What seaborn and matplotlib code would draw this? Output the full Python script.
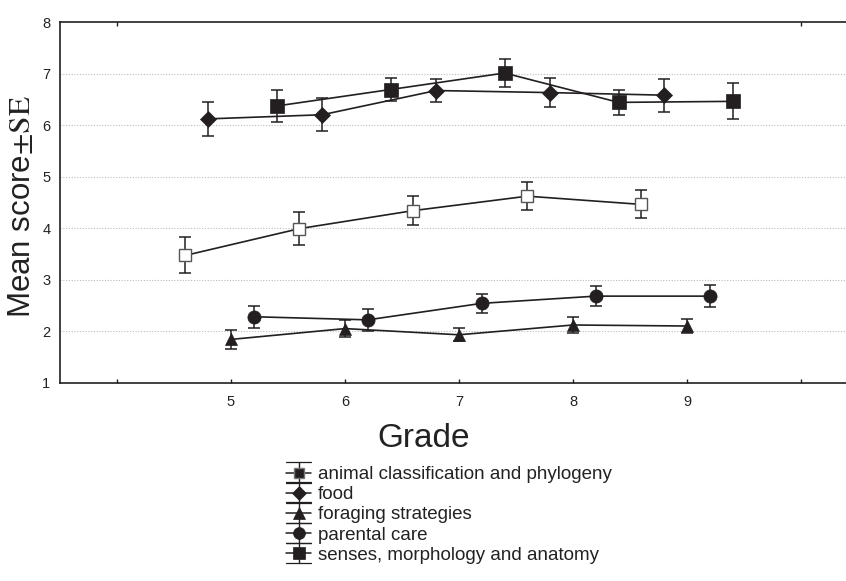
import numpy as np
import pandas as pd
import matplotlib
matplotlib.use("Agg")
import matplotlib.pyplot as plt
import seaborn as sns
from matplotlib.legend_handler import HandlerBase
from matplotlib.lines import Line2D

# ---- data ----
grades = [5, 6, 7, 8, 9]
series_names = ["animal classification and phylogeny", "food", "foraging strategies",
                "parental care", "senses, morphology and anatomy"]
animal_mean = [3.47, 3.99, 4.34, 4.62, 4.46]
animal_se = [0.35, 0.32, 0.28, 0.27, 0.27]
food_mean = [6.12, 6.20, 6.67, 6.63, 6.58]
food_se = [0.33, 0.32, 0.22, 0.28, 0.32]
forage_mean = [1.84, 2.05, 1.93, 2.12, 2.10]
forage_se = [0.18, 0.16, 0.13, 0.15, 0.14]
parental_mean = [2.28, 2.22, 2.54, 2.68, 2.68]
parental_se = [0.21, 0.21, 0.18, 0.20, 0.22]
senses_mean = [6.37, 6.69, 7.01, 6.44, 6.46]
senses_se = [0.31, 0.22, 0.28, 0.25, 0.35]
y_ticks = [1, 2, 3, 4, 5, 6, 7, 8]
x_tick_labels = ["", "5", "6", "7", "8", "9", ""]

means = [animal_mean, food_mean, forage_mean, parental_mean, senses_mean]
ses = [animal_se, food_se, forage_se, parental_se, senses_se]

# ---- style ----
sns.set_style("white")
plt.rcParams["font.family"] = ["Liberation Sans", "DejaVu Sans"]
plt.rcParams["mathtext.fontset"] = "stix"

INK = "#231f20"
dodge = [-0.4, -0.2, 0.0, 0.2, 0.4]
styles = [
    dict(marker="s", ms=8.5, mfc="white", mec="#555555", mew=1.0),
    dict(marker="D", ms=7.8, mfc=INK, mec=INK, mew=0.5),
    dict(marker="^", ms=9, mfc=INK, mec=INK, mew=0.5),
    dict(marker="o", ms=9.5, mfc=INK, mec=INK, mew=0.5),
    dict(marker="s", ms=9.5, mfc=INK, mec=INK, mew=0.5),
]

fig = plt.figure(figsize=(8.46, 5.81), dpi=100)
ax = fig.add_axes([60 / 846, 1 - 382.7 / 581, 798 / 846, (382.7 - 22) / 581])

rows = []
for name, m, s, d in zip(series_names, means, ses, dodge):
    for g, mv, sv in zip(grades, m, s):
        rows.append(dict(series=name, x=g + d, mean=mv, se=sv))
df = pd.DataFrame(rows)

for name, st in zip(series_names, styles):
    sub = df[df.series == name]
    ax.errorbar(sub.x, sub["mean"], yerr=sub.se, fmt="none", ecolor=INK,
                elinewidth=1.1, capsize=4.4, capthick=1.1, zorder=2)
    sns.lineplot(data=sub, x="x", y="mean", ax=ax, color=INK, lw=1.2,
                 marker=st["marker"], markersize=st["ms"],
                 markerfacecolor=st["mfc"], markeredgecolor=st["mec"],
                 markeredgewidth=st["mew"], legend=False, zorder=3,
                 estimator=None, sort=False)

ax.set_xlim(3.5, 10.5)
ax.set_ylim(1, 8)
ax.set_xticks([4, 5, 6, 7, 8, 9, 10])
ax.set_xticklabels(x_tick_labels)
ax.set_xticks([4, 10], minor=True)
ax.xaxis.remove_overlapping_locs = False
ax.set_yticks(y_ticks)
ax.set_yticklabels([str(v) for v in y_ticks])
ax.tick_params(axis="both", which="both", direction="in", length=3, width=1,
               color=INK, labelsize=10.5, labelcolor="#222222")
ax.tick_params(axis="x", which="major", top=False, bottom=True, pad=9)
ax.tick_params(axis="x", which="minor", top=True, bottom=False)
ax.tick_params(axis="y", pad=7)
for sp in ["left", "bottom", "top"]:
    ax.spines[sp].set_color(INK)
    ax.spines[sp].set_linewidth(1.2)
ax.spines["right"].set_visible(False)

for yv in y_ticks[1:-1]:
    ax.axhline(yv, color="#bbbbbb", lw=0.8, ls=(0, (1, 1.5)), zorder=0)

ax.set_xlabel("Grade", fontsize=24, color="#222222")
ax.xaxis.set_label_coords((424 - 60) / 798, -(423 - 382.7) / 360.7)
ax.set_ylabel(r"Mean score$\pm\mathrm{SE}$", fontsize=22.5, color="#222222")
ax.yaxis.set_label_coords(-(60 - 37) / 798, (382.7 - 207) / 360.7)


class ErrHandle(HandlerBase):
    def __init__(self, st):
        super().__init__()
        self.st = st

    def create_artists(self, legend, orig_handle, xdescent, ydescent, width,
                       height, fontsize, trans):
        cy = height / 2 - ydescent
        top = cy + 7.5
        bot = cy - 7.5
        x0, x1 = -xdescent, width - xdescent
        xm = (x0 + x1) / 2
        arts = [
            Line2D([x0, x1], [top, top], color=INK, lw=0.9),
            Line2D([x0, x1], [bot, bot], color=INK, lw=0.9),
            Line2D([x0, x1], [cy, cy], color=INK, lw=1.1),
            Line2D([xm, xm], [bot, top], color=INK, lw=1.0),
            Line2D([xm], [cy], marker=self.st["marker"], ms=self.st["ms"] * 0.9,
                   mfc=self.st["mfc"] if self.st["mfc"] != "white" else INK,
                   mec=self.st["mec"] if self.st["mfc"] != "white" else "#777777",
                   mew=self.st["mew"], ls="none"),
        ]
        for a in arts:
            a.set_transform(trans)
        return arts


handles = [Line2D([], [], label=n) for n in series_names]
hmap = {h: ErrHandle(st) for h, st in zip(handles, styles)}
leg = fig.legend(handles=handles, labels=series_names, handler_map=hmap,
                 loc="upper left", bbox_to_anchor=(286 / 846, 1 - 466 / 581),
                 frameon=False, fontsize=13.5, handlelength=1.35,
                 handletextpad=0.35, labelspacing=0.16, borderpad=0,
                 borderaxespad=0)
for t in leg.get_texts():
    t.set_color("#222222")

fig.savefig("out.png", dpi=100)
